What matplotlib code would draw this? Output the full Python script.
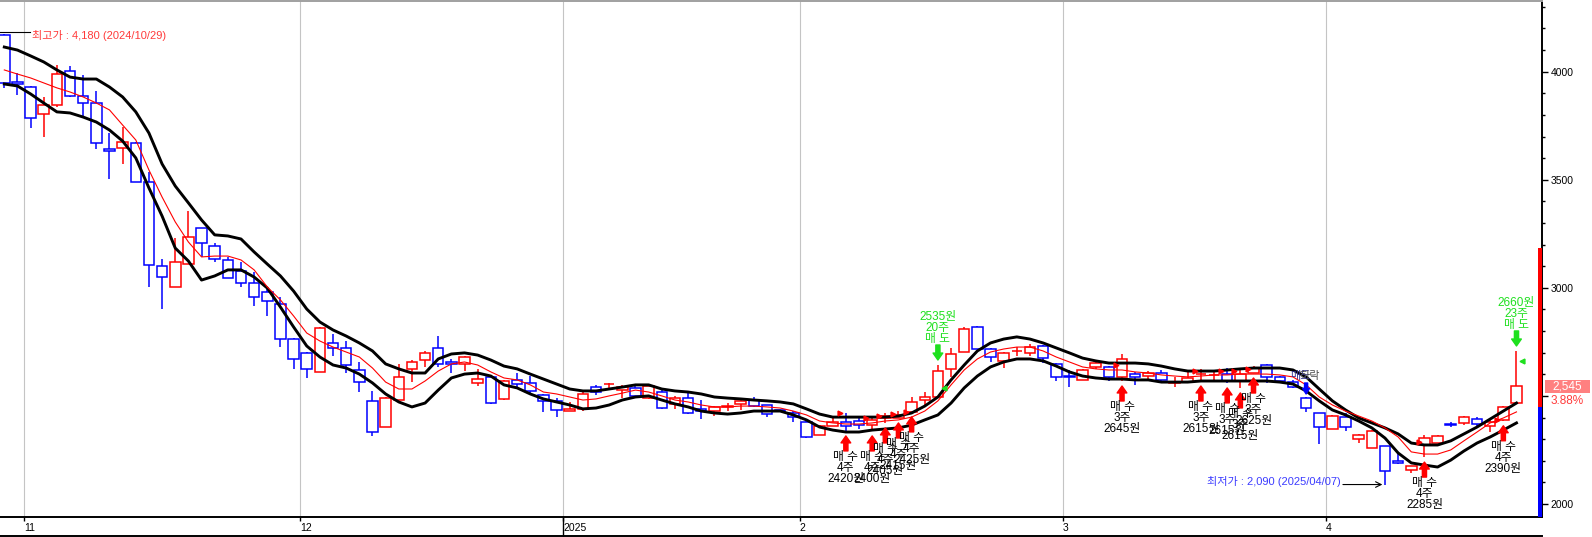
"""Daily candle chart with envelope bands and buy/sell marks."""

import matplotlib
matplotlib.use('Agg')
import matplotlib.pyplot as plt
import matplotlib.transforms as mtransforms
from matplotlib.patches import Rectangle
from matplotlib.lines import Line2D
from matplotlib.ticker import MultipleLocator, FuncFormatter

plt.rcParams['font.family'] = ['Liberation Sans', 'Noto Sans CJK KR', 'DejaVu Sans']

# daily candles 2024-10-30 .. 2025-04-21
opens = [4170, 3950, 3929, 3804, 3846, 4003, 3887, 3855, 3640, 3647,
         3670, 3490, 3101, 3004, 3110, 3277, 3194, 3129, 3078, 3022,
         2981, 2925, 2763, 2699, 2611, 2745, 2722, 2620, 2477, 2356,
         2481, 2625, 2666, 2722, 2657, 2648, 2560, 2588, 2486, 2574,
         2560, 2504, 2477, 2430, 2440, 2541, 2553, 2527, 2537, 2490,
         2518, 2463, 2490, 2440, 2430, 2451, 2463, 2481, 2458, 2433,
         2421, 2379, 2319, 2361, 2379, 2384, 2365, 2398, 2398, 2426,
         2481, 2495, 2625, 2703, 2819, 2717, 2662, 2706, 2699, 2731,
         2648, 2590, 2574, 2634, 2634, 2588, 2601, 2592, 2606, 2562,
         2564, 2600, 2595, 2601, 2569, 2606, 2643, 2588, 2564, 2490,
         2421, 2347, 2402, 2301, 2259, 2268, 2199, 2157, 2273, 2282,
         2368, 2375, 2393, 2361, 2389, 2467]
highs = [4175, 3994, 3934, 3883, 4031, 4026, 3985, 3911, 3716, 3744,
         3675, 3536, 3133, 3231, 3356, 3277, 3207, 3143, 3120, 3073,
         2995, 2958, 2768, 2703, 2819, 2786, 2754, 2657, 2523, 2495,
         2648, 2666, 2708, 2777, 2671, 2685, 2625, 2588, 2575, 2606,
         2592, 2510, 2490, 2472, 2518, 2551, 2560, 2551, 2546, 2550,
         2527, 2500, 2518, 2481, 2453, 2467, 2486, 2495, 2460, 2435,
         2430, 2382, 2365, 2402, 2421, 2407, 2402, 2421, 2430, 2495,
         2518, 2643, 2722, 2819, 2823, 2720, 2703, 2726, 2740, 2735,
         2650, 2620, 2625, 2666, 2640, 2694, 2611, 2615, 2620, 2588,
         2620, 2625, 2620, 2629, 2620, 2638, 2648, 2592, 2574, 2495,
         2421, 2410, 2421, 2322, 2340, 2270, 2236, 2178, 2319, 2320,
         2379, 2405, 2402, 2389, 2455, 2708]
lows = [3925, 3892, 3740, 3698, 3837, 3883, 3790, 3642, 3503, 3573,
        3490, 3004, 2902, 3004, 3110, 3143, 3120, 3046, 3004, 2916,
        2870, 2726, 2625, 2583, 2611, 2685, 2606, 2518, 2315, 2356,
        2481, 2564, 2634, 2634, 2606, 2615, 2546, 2463, 2481, 2541,
        2504, 2426, 2402, 2430, 2430, 2504, 2527, 2490, 2490, 2486,
        2440, 2440, 2416, 2393, 2407, 2430, 2435, 2450, 2402, 2425,
        2380, 2305, 2319, 2361, 2338, 2347, 2338, 2375, 2398, 2426,
        2458, 2495, 2588, 2703, 2717, 2657, 2629, 2685, 2685, 2652,
        2569, 2541, 2574, 2625, 2569, 2569, 2551, 2569, 2560, 2541,
        2564, 2569, 2569, 2560, 2537, 2606, 2560, 2565, 2537, 2426,
        2278, 2347, 2338, 2282, 2259, 2090, 2185, 2143, 2217, 2280,
        2356, 2365, 2361, 2333, 2385, 2467]
closes = [3948, 3945, 3786, 3846, 3989, 3887, 3855, 3670, 3633, 3675,
          3490, 3106, 3050, 3120, 3235, 3207, 3133, 3046, 3022, 2958,
          2939, 2763, 2671, 2625, 2814, 2722, 2643, 2564, 2333, 2490,
          2588, 2657, 2699, 2648, 2648, 2680, 2578, 2467, 2569, 2555,
          2523, 2477, 2435, 2440, 2509, 2518, 2557, 2541, 2500, 2546,
          2444, 2490, 2421, 2430, 2449, 2455, 2477, 2453, 2416, 2428,
          2402, 2310, 2361, 2379, 2361, 2365, 2389, 2407, 2412, 2472,
          2495, 2615, 2694, 2810, 2717, 2680, 2699, 2710, 2726, 2675,
          2588, 2586, 2620, 2652, 2588, 2671, 2588, 2606, 2574, 2565,
          2583, 2603, 2599, 2569, 2601, 2629, 2588, 2569, 2541, 2444,
          2356, 2407, 2356, 2319, 2338, 2153, 2190, 2176, 2305, 2315,
          2364, 2402, 2370, 2379, 2449, 2545]

# envelope (black) and average (red) lines
upper_band = [4114, 4100, 4073, 4045, 4008, 3975, 3966, 3966, 3929, 3883,
              3814, 3716, 3573, 3471, 3393, 3314, 3245, 3240, 3226, 3166,
              3110, 3055, 2985, 2902, 2842, 2805, 2777, 2745, 2708, 2648,
              2625, 2606, 2606, 2671, 2694, 2699, 2689, 2666, 2638, 2625,
              2601, 2578, 2555, 2532, 2523, 2523, 2532, 2541, 2551, 2551,
              2532, 2523, 2518, 2509, 2495, 2490, 2486, 2481, 2477, 2472,
              2463, 2440, 2416, 2402, 2402, 2402, 2402, 2402, 2407, 2421,
              2453, 2495, 2574, 2643, 2708, 2745, 2763, 2773, 2763, 2745,
              2722, 2699, 2675, 2662, 2652, 2652, 2652, 2648, 2638, 2625,
              2615, 2615, 2615, 2620, 2625, 2629, 2629, 2629, 2620, 2588,
              2532, 2477, 2435, 2398, 2375, 2352, 2324, 2282, 2273, 2273,
              2292, 2324, 2356, 2393, 2430, 2467]
mid_line = [4008, 3989, 3971, 3948, 3925, 3906, 3883, 3855, 3823, 3753,
            3684, 3545, 3420, 3305, 3212, 3143, 3147, 3147, 3129, 3083,
            3004, 2944, 2870, 2791, 2754, 2726, 2703, 2680, 2629, 2564,
            2532, 2532, 2569, 2615, 2648, 2657, 2643, 2611, 2583, 2574,
            2551, 2518, 2509, 2495, 2481, 2486, 2500, 2513, 2527, 2518,
            2500, 2481, 2472, 2458, 2449, 2449, 2453, 2453, 2449, 2444,
            2430, 2412, 2384, 2375, 2370, 2370, 2375, 2384, 2389, 2402,
            2430, 2477, 2551, 2620, 2671, 2703, 2717, 2726, 2726, 2708,
            2680, 2657, 2634, 2625, 2620, 2620, 2611, 2606, 2597, 2592,
            2588, 2592, 2597, 2597, 2601, 2601, 2601, 2597, 2588, 2551,
            2495, 2458, 2430, 2407, 2384, 2352, 2310, 2241, 2231, 2231,
            2250, 2292, 2333, 2375, 2398, 2426]
lower_band = [3943, 3934, 3897, 3855, 3814, 3809, 3790, 3767, 3730, 3679,
              3601, 3462, 3332, 3184, 3124, 3036, 3055, 3083, 3083, 3050,
              2999, 2911, 2819, 2731, 2680, 2643, 2629, 2601, 2560, 2509,
              2472, 2449, 2467, 2527, 2583, 2601, 2606, 2592, 2551, 2537,
              2509, 2486, 2472, 2458, 2440, 2444, 2458, 2481, 2495, 2500,
              2481, 2463, 2449, 2430, 2421, 2416, 2421, 2430, 2430, 2430,
              2412, 2389, 2356, 2342, 2333, 2333, 2342, 2347, 2352, 2365,
              2389, 2412, 2467, 2537, 2592, 2634, 2657, 2671, 2671, 2662,
              2638, 2611, 2592, 2583, 2578, 2578, 2574, 2574, 2564, 2564,
              2564, 2569, 2569, 2569, 2569, 2569, 2569, 2564, 2555, 2523,
              2477, 2435, 2412, 2384, 2352, 2305, 2236, 2190, 2180, 2171,
              2203, 2245, 2282, 2310, 2342, 2375]

# first candle of each month
month_idx = [2, 23, 43, 61, 81, 101]
month_lbl = ['11', '12', '2025', '2', '3', '4']

# trade signals
buy_idx = [64, 66, 67, 68, 69, 85, 91, 93, 94, 95, 108, 114]
buy_qty = [4, 4, 4, 4, 4, 3, 3, 3, 3, 3, 4, 4]
buy_px = [2420, 2400, 2405, 2415, 2425, 2645, 2615, 2615, 2615, 2625, 2285, 2390]
sell_idx = [71, 115]
sell_qty = [20, 23]
sell_px = [2535, 2660]

hi_val, hi_date = 4180, '2024/10/29'
lo_idx, lo_val, lo_date = 105, 2090, '2025/04/07'
last_px, chg_pct = 2545, 3.88
prev_close, up_limit, dn_limit = 2450, 3185, 1715

RED = '#ff0000'
BLUE = '#0000ff'
GREEN = '#1ee01e'

fig = plt.figure(figsize=(15.92, 5.37), dpi=100)
ax = fig.add_axes([0, 20.3 / 537, 1542 / 1592, 515.7 / 537])
ax.set_xlim(-0.327, 116.94)
ax.set_ylim(1941.2, 4327)


def shifted(dy):
    return mtransforms.offset_copy(ax.transData, fig=fig, x=0, y=dy, units='dots')


# month separators
for m in month_idx:
    ax.axvline(m - 0.5, color='#c4c4c4', lw=0.8, zorder=0)

# candles
bw = 0.8
for i in range(len(opens)):
    o, h, l, c = opens[i], highs[i], lows[i], closes[i]
    col = RED if c >= o else BLUE
    ax.vlines(i, l, h, color=col, lw=1.1, zorder=2)
    ax.add_patch(Rectangle((i - bw / 2, min(o, c)), bw, abs(c - o),
                           facecolor='white', edgecolor=col, lw=1.1, zorder=3))

xs = list(range(len(opens)))
ax.plot(xs, upper_band, color='black', lw=2.1, zorder=4)
ax.plot(xs, lower_band, color='black', lw=2.1, zorder=4)
ax.plot(xs, mid_line, color=RED, lw=0.8, zorder=5)

arrow_style = 'simple,head_length=0.5,head_width=0.7,tail_width=0.3'

# buy marks
for i, q, p in zip(buy_idx, buy_qty, buy_px):
    low = lows[i]
    ax.annotate('', xy=(i, low), xycoords=shifted(-5),
                xytext=(i, low), textcoords=shifted(-20),
                arrowprops=dict(arrowstyle=arrow_style, color=RED,
                                shrinkA=0, shrinkB=0, mutation_scale=10),
                zorder=6)
    for k, s in enumerate(['매 수', f'{q}주', f'{p}원']):
        ax.text(i, low, s, transform=shifted(-26 - 11 * k), ha='center',
                va='center', fontsize=8.5, color='black', zorder=7)
    ax.plot(i - 0.45, p, marker='>', color=RED, ms=3.5, zorder=6)

# sell marks
for i, q, p in zip(sell_idx, sell_qty, sell_px):
    high = highs[i]
    ax.annotate('', xy=(i, high), xycoords=shifted(5),
                xytext=(i, high), textcoords=shifted(20),
                arrowprops=dict(arrowstyle=arrow_style, color=GREEN,
                                shrinkA=0, shrinkB=0, mutation_scale=10),
                zorder=6)
    for k, s in enumerate(['매 도', f'{q}주', f'{p}원']):
        ax.text(i, high, s, transform=shifted(26 + 11 * k), ha='center',
                va='center', fontsize=8.5, color=GREEN, zorder=7)
    ax.plot(i + 0.45, p, marker='<', color=GREEN, ms=3.5, zorder=6)

# small sell hint near the start of April
ax.annotate('', xy=(99, highs[99]), xycoords=shifted(3),
            xytext=(99, highs[99]), textcoords=shifted(14),
            arrowprops=dict(arrowstyle='simple,head_length=0.45,head_width=0.55,tail_width=0.25',
                            color=BLUE, shrinkA=0, shrinkB=0, mutation_scale=9),
            zorder=6)
ax.text(97.75, 2592, '매도', ha='left', va='center', fontsize=8,
        color='#303090', zorder=7)
ax.text(98.5, 2592, '하락', ha='left', va='center', fontsize=8,
        color='#505050', zorder=7)

# highest / lowest labels
ax.plot([-0.327, 1.95], [hi_val + 5, hi_val + 5], color='black', lw=0.8, zorder=6)
ax.text(2.1, hi_val - 12, f'최고가 : {hi_val:,} ({hi_date})', ha='left', va='center',
        fontsize=8, color='#ff3a3a', zorder=7)
ax.annotate('', xy=(lo_idx - 0.2, lo_val), xytext=(101.8, lo_val),
            arrowprops=dict(arrowstyle='->', color='black', lw=0.8,
                            shrinkA=0, shrinkB=0), zorder=6)
ax.text(101.6, lo_val + 12, f'최저가 : {lo_val:,} ({lo_date})', ha='right', va='center',
        fontsize=8, color='#3c3cff', zorder=7)

# price limit bar on the right edge
ytr = ax.get_yaxis_transform()
bar_x = 1538.3 / 1542
ax.add_patch(Rectangle((bar_x, prev_close), 1 - bar_x, up_limit - prev_close,
                       transform=ytr, color=RED, lw=0, zorder=6))
ax.add_patch(Rectangle((bar_x, dn_limit), 1 - bar_x, prev_close - dn_limit,
                       transform=ytr, color=BLUE, lw=0, zorder=6))

# current price tag
ax.add_patch(Rectangle((1545 / 1542, last_px - 30), 45 / 1542, 60, transform=ytr,
                       color='#ff8080', lw=0, clip_on=False, zorder=8))
ax.text(1567.5 / 1542, last_px, f'{last_px:,}', transform=ytr, ha='center',
        va='center', fontsize=8.5, color='white', zorder=9, clip_on=False)
ax.text(1567.5 / 1542, last_px - 68, f'{chg_pct:.2f}%', transform=ytr, ha='center',
        va='center', fontsize=8.5, color='#ff3c3c', zorder=9, clip_on=False)

# axes styling
ax.spines['left'].set_visible(False)
ax.spines['top'].set_color('#a0a0a0')
ax.spines['top'].set_linewidth(1.4)
ax.spines['right'].set_linewidth(1.4)
ax.spines['bottom'].set_linewidth(1.4)

ax.yaxis.tick_right()
ax.yaxis.set_major_locator(MultipleLocator(500))
ax.yaxis.set_minor_locator(MultipleLocator(100))
ax.yaxis.set_major_formatter(FuncFormatter(lambda v, _: '' if abs(v - 2500) < 1 else f'{v:.0f}'))
ax.tick_params(axis='y', which='major', length=4.3, width=1, pad=2, labelsize=7.5)
ax.tick_params(axis='y', which='minor', length=2.2, width=1)

ax.set_xticks([m - 0.5 for m in month_idx])
ax.set_xticklabels(month_lbl, ha='left')
ax.tick_params(axis='x', length=3, width=1, pad=1.5, labelsize=7.5)

# year separator and bottom border of the date strip
yr = month_lbl.index('2025')
ax.plot([month_idx[yr] - 0.5] * 2, [0, -20 / 515.7], transform=ax.get_xaxis_transform(),
        color='black', lw=1, clip_on=False)
fig.add_artist(Line2D([0, 1542 / 1592], [1 / 537, 1 / 537], color='black', lw=1.4))

fig.savefig('out.png', dpi=100)
